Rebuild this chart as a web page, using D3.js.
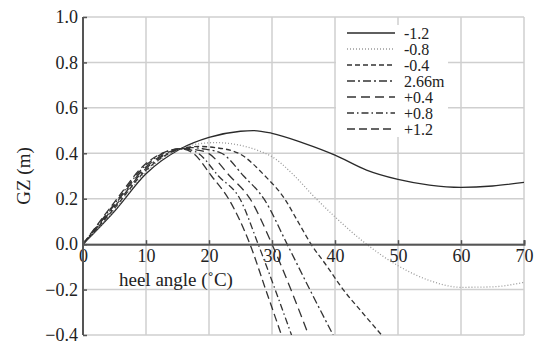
<!DOCTYPE html>
<html lang="en">
<head>
<meta charset="utf-8">
<script src="https://d3js.org/d3.v7.min.js"></script>
<title>GZ curves</title>
<style>
  body { margin: 0; background: #fff; }
  svg text { font-family: "Times New Roman", Times, "Liberation Serif", "Noto Serif", "DejaVu Serif", serif; fill: #222; }
  .grid line { stroke: #cfcfcf; stroke-width: 1.5px; }
  .curve { fill: none; stroke-width: 1.3px; }
</style>
</head>
<body>
<script>
// series labels (legend order)
var labels = ["-1.2", "-0.8", "-0.4", "2.66m", "+0.4", "+0.8", "+1.2"];

// heel angle (deg) and GZ (m)
var angM12 = [0, 5, 10, 15.5, 20, 25, 27, 30, 35, 40, 45, 50, 55, 60, 65, 70];
var gzM12  = [0, 0.145, 0.31, 0.42, 0.47, 0.497, 0.5, 0.488, 0.445, 0.392, 0.326, 0.285, 0.26, 0.25, 0.256, 0.272];

var angM08 = [0, 5, 10, 15.5, 18, 21, 25, 28, 30, 33.6, 36.3, 40, 45, 50, 55, 60, 65, 70];
var gzM08  = [0, 0.15, 0.318, 0.42, 0.44, 0.447, 0.435, 0.41, 0.385, 0.3, 0.22, 0.12, 0.0, -0.095, -0.16, -0.19, -0.188, -0.168];

var angM04 = [0, 5, 10, 15.5, 18.5, 21, 24.7, 28.9, 32.0, 34.1, 36.2, 38.8, 41.3, 44.3, 47.4];
var gzM04  = [0, 0.158, 0.325, 0.42, 0.43, 0.425, 0.4, 0.3, 0.2, 0.1, 0.0, -0.1, -0.2, -0.3, -0.4];

var ang266 = [0, 5, 10, 15.5, 17, 19, 22, 25.5, 28.7, 32.4, 36, 39.7];
var gz266  = [0, 0.165, 0.333, 0.42, 0.425, 0.42, 0.4, 0.3, 0.2, 0.0, -0.2, -0.4];

var angP04 = [0, 5, 10, 15.5, 16.5, 18, 19.9, 23.3, 26.5, 30.0, 33, 35.8];
var gzP04  = [0, 0.172, 0.34, 0.42, 0.422, 0.415, 0.4, 0.3, 0.2, 0.0, -0.2, -0.4];

var angP08 = [0, 5, 10, 15.5, 16.2, 18.3, 21.5, 24.9, 27.8, 30.5, 33.1];
var gzP08  = [0, 0.178, 0.348, 0.42, 0.419, 0.4, 0.3, 0.2, 0.0, -0.2, -0.4];

var angP12 = [0, 5, 10, 13, 15.5, 17.5, 20.4, 23.1, 26.5, 29, 31.5];
var gzP12  = [0, 0.185, 0.355, 0.405, 0.42, 0.4, 0.3, 0.2, 0.0, -0.2, -0.4];

var xTicks = [0, 10, 20, 30, 40, 50, 60, 70];
var yTicks = [-0.4, -0.2, 0.0, 0.2, 0.4, 0.6, 0.8, 1.0];

var series = [
  {name: labels[0], ang: angM12, gz: gzM12, dash: null,        color: "#2a2a2a"},
  {name: labels[1], ang: angM08, gz: gzM08, dash: "1,2",       color: "#9a9a9a"},
  {name: labels[2], ang: angM04, gz: gzM04, dash: "5,3",       color: "#333"},
  {name: labels[3], ang: ang266, gz: gz266, dash: "8,3,2,3",   color: "#333"},
  {name: labels[4], ang: angP04, gz: gzP04, dash: "9,5",       color: "#333"},
  {name: labels[5], ang: angP08, gz: gzP08, dash: "7,3,1.5,3", color: "#333"},
  {name: labels[6], ang: angP12, gz: gzP12, dash: "8,4",       color: "#333"}
];

var width = 544, height = 343;
var svg = d3.select("body").append("svg")
  .attr("width", width).attr("height", height);

var x = d3.scaleLinear().domain([0, 70]).range([83, 524]);
var y = d3.scaleLinear().domain([-0.4, 1.0]).range([335, 17]);

svg.append("defs").append("clipPath").attr("id", "plot")
  .append("rect").attr("x", x(0)).attr("y", y(1.0))
  .attr("width", x(70) - x(0)).attr("height", y(-0.4) - y(1.0));

// grid
var grid = svg.append("g").attr("class", "grid");
grid.selectAll(".v").data(xTicks).enter().append("line")
  .attr("x1", function(d){ return x(d); }).attr("x2", function(d){ return x(d); })
  .attr("y1", y(1.0)).attr("y2", y(-0.4));
grid.selectAll(".h").data(yTicks).enter().append("line")
  .attr("x1", x(0)).attr("x2", x(70))
  .attr("y1", function(d){ return y(d); }).attr("y2", function(d){ return y(d); });

// legend background (hides grid behind it)
var lg = svg.append("g");
lg.append("rect").attr("x", 336).attr("y", 25).attr("width", 112).attr("height", 112).attr("fill", "#fff");

// curves
var line = d3.line().curve(d3.curveMonotoneX)
  .x(function(d){ return x(d[0]); }).y(function(d){ return y(d[1]); });

svg.append("g").attr("clip-path", "url(#plot)")
  .selectAll("path").data(series).enter().append("path")
  .attr("class", "curve")
  .style("stroke", function(d){ return d.color; })
  .attr("stroke-dasharray", function(d){ return d.dash; })
  .attr("d", function(d){ return line(d3.zip(d.ang, d.gz)); });

// axes
var xAxis = svg.append("g").attr("transform", "translate(0," + y(0) + ")")
  .call(d3.axisBottom(x).tickValues(xTicks).tickSize(-4).tickPadding(5).tickFormat(d3.format("d")));
var yAxis = svg.append("g").attr("transform", "translate(" + x(0) + ",0)")
  .call(d3.axisLeft(y).tickValues(yTicks).tickSize(-4).tickPadding(5).tickFormat(d3.format(".1f")));

[xAxis, yAxis].forEach(function(a){
  a.attr("font-family", null).attr("font-size", null);
  a.select(".domain").attr("stroke", "#555").attr("stroke-width", 2);
  a.selectAll(".tick line").attr("stroke", "#555").attr("stroke-width", 1.5);
  a.selectAll("text").style("font-size", "18px").style("fill", "#222");
});
yAxis.select(".domain").attr("d", "M0," + y(-0.4) + "V" + y(1.0));

// axis titles
svg.append("text").attr("x", 119).attr("y", 286)
  .style("font-size", "19px").text("heel angle (\u02DAC)");
svg.append("text").attr("transform", "translate(30,176) rotate(-90)")
  .attr("text-anchor", "middle").style("font-size", "19px").text("GZ (m)");

// legend entries
var rows = lg.selectAll(".row").data(series).enter().append("g")
  .attr("transform", function(d, i){ return "translate(0," + (33 + i * 16) + ")"; });
rows.append("line").attr("x1", 347).attr("x2", 395).attr("y1", 0).attr("y2", 0)
  .attr("stroke", function(d){ return d.color; }).attr("stroke-width", 1.3)
  .attr("stroke-dasharray", function(d){ return d.dash; });
rows.append("text").attr("x", 404).attr("y", 5.5).style("font-size", "16px")
  .text(function(d){ return d.name; });
</script>
</body>
</html>
